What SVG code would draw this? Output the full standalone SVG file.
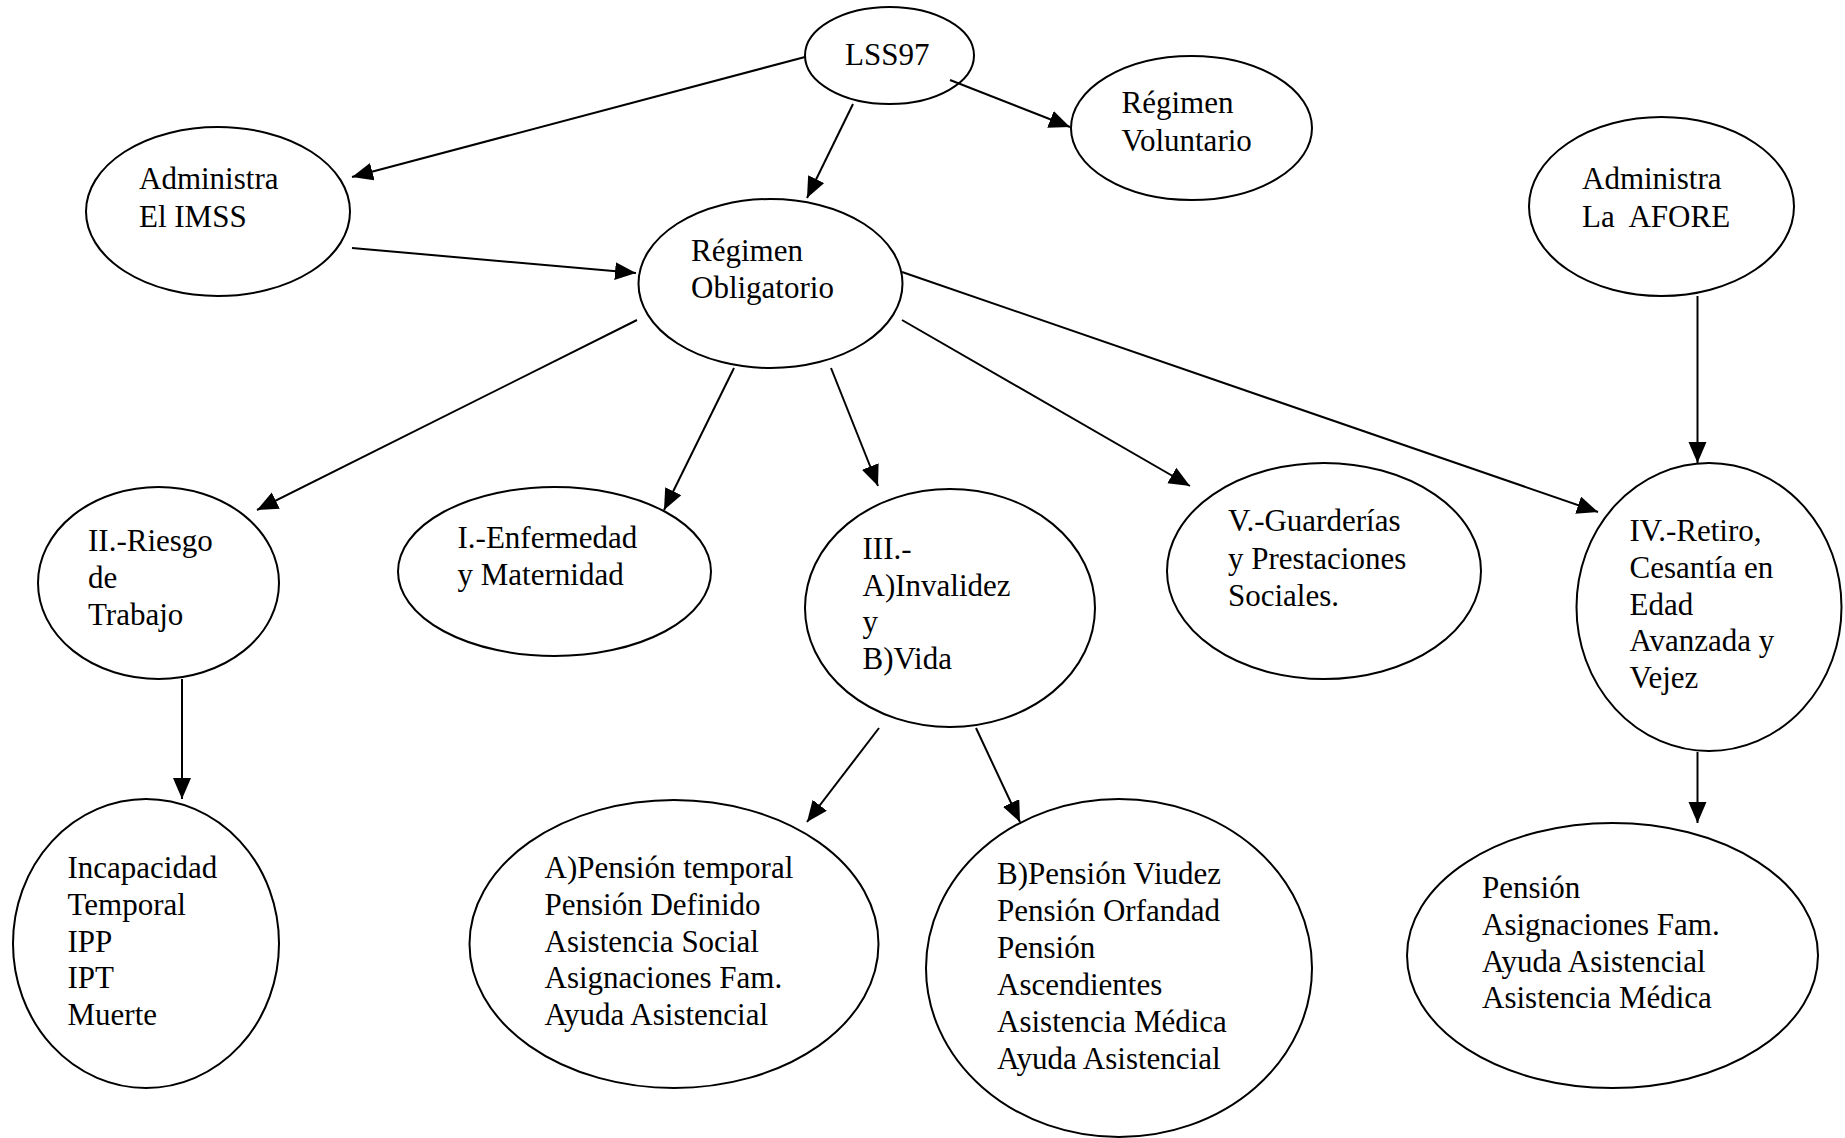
<svg xmlns="http://www.w3.org/2000/svg" width="1845" height="1138" viewBox="0 0 1845 1138">
  <defs>
    <marker id="arrow" markerUnits="userSpaceOnUse" markerWidth="22" markerHeight="20" refX="21" refY="9" orient="auto">
      <path d="M0,0 L21,9 L0,18 Z" fill="#000"/>
    </marker>
  </defs>
  <style>
    .node ellipse { fill: #fff; stroke: #000; stroke-width: 2; }
    .node text { font-family: "Liberation Serif", "Times New Roman", serif; font-size: 31px; fill: #000; }
    #connectors line { stroke: #000; stroke-width: 2; marker-end: url(#arrow); }
  </style>
  <rect width="1845" height="1138" fill="#fff"/>

  <g id="n-lss97" class="node">
    <ellipse cx="889.5" cy="55.5" rx="84.5" ry="48.5"/>
    <text x="845" y="65">LSS97</text>
  </g>

  <g id="n-imss" class="node">
    <ellipse cx="218" cy="211.5" rx="132" ry="84.5"/>
    <text x="139" y="189">Administra</text>
    <text x="139" y="227">El IMSS</text>
  </g>

  <g id="n-voluntario" class="node">
    <ellipse cx="1191.5" cy="128" rx="120.5" ry="72"/>
    <text x="1121.5" y="113">Régimen</text>
    <text x="1121.5" y="151">Voluntario</text>
  </g>

  <g id="n-afore" class="node">
    <ellipse cx="1661.5" cy="206.5" rx="132.5" ry="89.5"/>
    <text x="1582" y="189">Administra</text>
    <text x="1582" y="227" xml:space="preserve">La  AFORE</text>
  </g>

  <g id="n-obligatorio" class="node">
    <ellipse cx="770.5" cy="283.5" rx="132" ry="84.5"/>
    <text x="691" y="261">Régimen</text>
    <text x="691" y="298">Obligatorio</text>
  </g>

  <g id="n-riesgo" class="node">
    <ellipse cx="158.5" cy="583" rx="120.5" ry="96"/>
    <text x="88" y="551">II.-Riesgo</text>
    <text x="88" y="588">de</text>
    <text x="88" y="625">Trabajo</text>
  </g>

  <g id="n-enfermedad" class="node">
    <ellipse cx="554.5" cy="571.5" rx="156.5" ry="84.5"/>
    <text x="457.5" y="548">I.-Enfermedad</text>
    <text x="457.5" y="585">y Maternidad</text>
  </g>

  <g id="n-invalidez" class="node">
    <ellipse cx="950" cy="608" rx="145" ry="119"/>
    <text x="862.5" y="559">III.-</text>
    <text x="862.5" y="596">A)Invalidez</text>
    <text x="862.5" y="632">y</text>
    <text x="862.5" y="669">B)Vida</text>
  </g>

  <g id="n-guarderias" class="node">
    <ellipse cx="1324" cy="571" rx="157" ry="108"/>
    <text x="1228" y="531">V.-Guarderías</text>
    <text x="1228" y="569">y Prestaciones</text>
    <text x="1228" y="606">Sociales.</text>
  </g>

  <g id="n-retiro" class="node">
    <ellipse cx="1709" cy="607" rx="132.5" ry="144"/>
    <text x="1629.5" y="541">IV.-Retiro,</text>
    <text x="1629.5" y="578">Cesantía en</text>
    <text x="1629.5" y="615">Edad</text>
    <text x="1629.5" y="651">Avanzada y</text>
    <text x="1629.5" y="688">Vejez</text>
  </g>

  <g id="n-incapacidad" class="node">
    <ellipse cx="146" cy="943.5" rx="133" ry="144.5"/>
    <text x="67.5" y="878">Incapacidad</text>
    <text x="67.5" y="915">Temporal</text>
    <text x="67.5" y="952">IPP</text>
    <text x="67.5" y="988">IPT</text>
    <text x="67.5" y="1025">Muerte</text>
  </g>

  <g id="n-pension-a" class="node">
    <ellipse cx="674" cy="944" rx="204.5" ry="144"/>
    <text x="544.5" y="878">A)Pensión temporal</text>
    <text x="544.5" y="915">Pensión Definido</text>
    <text x="544.5" y="952">Asistencia Social</text>
    <text x="544.5" y="988">Asignaciones Fam.</text>
    <text x="544.5" y="1025">Ayuda Asistencial</text>
  </g>

  <g id="n-pension-b" class="node">
    <ellipse cx="1119" cy="968" rx="193" ry="169"/>
    <text x="997" y="884">B)Pensión Viudez</text>
    <text x="997" y="921">Pensión Orfandad</text>
    <text x="997" y="958">Pensión</text>
    <text x="997" y="995">Ascendientes</text>
    <text x="997" y="1032">Asistencia Médica</text>
    <text x="997" y="1069">Ayuda Asistencial</text>
  </g>

  <g id="n-pension-retiro" class="node">
    <ellipse cx="1612.5" cy="955.5" rx="205.5" ry="132.5"/>
    <text x="1482" y="898">Pensión</text>
    <text x="1482" y="935">Asignaciones Fam.</text>
    <text x="1482" y="972">Ayuda Asistencial</text>
    <text x="1482" y="1008">Asistencia Médica</text>
  </g>

  <g id="connectors">
    <line x1="805" y1="57" x2="352" y2="177"/>
    <line x1="853" y1="104" x2="807" y2="198"/>
    <line x1="950" y1="80" x2="1070" y2="127"/>
    <line x1="352" y1="248" x2="636" y2="273"/>
    <line x1="1697.5" y1="296" x2="1697.5" y2="463"/>
    <line x1="637" y1="320" x2="257" y2="510"/>
    <line x1="734" y1="368" x2="664" y2="510"/>
    <line x1="831" y1="368" x2="878" y2="486"/>
    <line x1="902" y1="320" x2="1190" y2="486"/>
    <line x1="902" y1="272" x2="1598" y2="512"/>
    <line x1="182" y1="679" x2="182" y2="799"/>
    <line x1="879" y1="728" x2="807" y2="822"/>
    <line x1="976" y1="728" x2="1020" y2="822"/>
    <line x1="1697.5" y1="752" x2="1697.5" y2="823"/>
  </g>
</svg>
